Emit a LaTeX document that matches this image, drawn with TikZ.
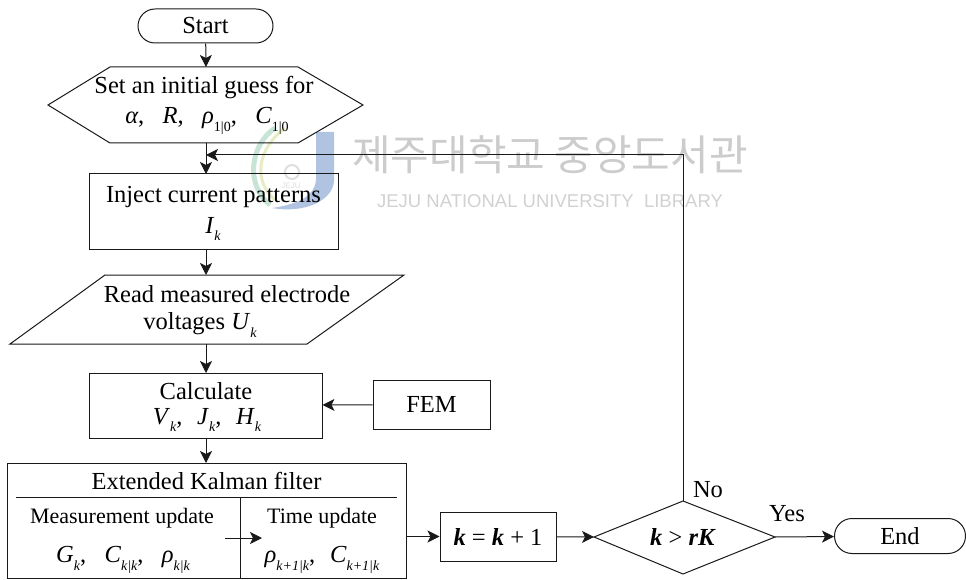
\documentclass[tikz,border=0pt]{standalone}
\usepackage{fontspec}
\setmainfont{Liberation Serif}
\newfontfamily\cjk{Noto Sans CJK KR}
\newfontfamily\wm{Liberation Sans}
\usetikzlibrary{arrows.meta,shapes.misc}
\definecolor{logoblue}{RGB}{176,196,226}
\definecolor{logogreen}{RGB}{200,228,214}
\definecolor{logoyellow}{RGB}{232,236,196}
\definecolor{logogray}{RGB}{222,222,222}
\tikzset{
  x=1pt,y=-1pt,
  every node/.style={font=\fontsize{24.5}{28}\selectfont,align=center,inner sep=0pt},
  ln/.style={draw=black!90,line width=1pt},
  arr/.style={ln,-{Stealth[length=12pt,width=12pt,inset=3pt]}},
  smalltxt/.style={font=\fontsize{22}{26}\selectfont}
}
\newcommand{\ssb}[1]{\raisebox{-0.3em}{\fontsize{14}{15}\selectfont\itshape #1}}
\newcommand{\vv}[1]{\textit{#1}}
\newcommand{\bv}[1]{\textbf{\textit{#1}}}
\newcommand{\gp}{\hspace{0.75em}}
\begin{document}
\begin{tikzpicture}
\useasboundingbox (0,0) rectangle (966,580);
% watermark
\fill[logoblue] (316,132) -- (334,132) -- (334,180) .. controls (334,200) and (305,214) .. (272,208) .. controls (300,204) and (316,195) .. (316,178) -- cycle;
\draw[logogreen,line width=5pt] (275,128) .. controls (250,145) and (245,185) .. (270,205);
\draw[logoyellow,line width=3pt] (285,128) .. controls (258,148) and (252,180) .. (275,200);
\draw[logogray,line width=2pt] (292,172) circle (7pt);
\node[font=\wm\fontsize{8}{9}\selectfont,text=logogray] (wml) at (291,186) {JEJU};
\node[font=\cjk\fontsize{42}{44}\selectfont,text=black!20] (wmk) at (550,155) {제주대학교 중앙도서관};
\node[font=\wm\fontsize{18.5}{20}\selectfont,text=black!18] (wme) at (550,201) {JEJU NATIONAL UNIVERSITY\ \ LIBRARY};
% shapes
\node[ln,rounded rectangle,minimum width=135pt,minimum height=34pt] (start) at (205.5,26) {Start};
\coordinate (hexT) at (206,67);
\coordinate (hexB) at (206,143);
\draw[ln] (48,105) -- (110,67) -- (298,67) -- (363,105) -- (298,143) -- (110,143) -- cycle;
\node (hext) at (204,88) {Set an initial guess for};
\node (hexm) at (207,121) {\vv{α},\gp\vv{R},\gp\vv{ρ}\ssb{\upshape 1|0},\gp\vv{C}\ssb{\upshape 1|0}};
\node[ln,minimum width=249pt,minimum height=75pt] (inject) at (213.5,211.5) {};
\node (injt) at (213.5,197) {Inject current patterns};
\node (injm) at (213,229) {\vv{I}\ssb{k}};
\draw[ln] (105,275) -- (404,275) -- (307,344) -- (10,344) -- cycle;
\coordinate (parT) at (206,275);
\coordinate (parB) at (206,344);
\node (part) at (227,294) {Read measured electrode};
\node (parm) at (200,325) {voltages \vv{U}\ssb{k}};
\node[ln,minimum width=233pt,minimum height=65pt] (calc) at (205.5,405.5) {};
\node (calct) at (206,391) {Calculate};
\node (calcm) at (207,420) {\vv{V}\ssb{k},\hspace{0.6em}\vv{J}\ssb{k},\hspace{0.6em}\vv{H}\ssb{k}};
\node[ln,minimum width=117pt,minimum height=49pt] (fem) at (431.5,404.5) {FEM};
\node[ln,minimum width=399pt,minimum height=115pt] (ekf) at (206.5,520.5) {};
\node (ekft) at (206.5,481) {Extended Kalman filter};
\coordinate (d1) at (16,497); \coordinate (d2) at (397,497);
\draw[ln] (d1) -- (d2);
\coordinate (v1) at (240,497); \coordinate (v2) at (240,578);
\draw[ln] (v1) -- (v2);
\node[smalltxt] (mu) at (122,518) {Measurement update};
\node[smalltxt] (tu) at (322,518) {Time update};
\node (mum) at (123,560) {\vv{G}\ssb{k},\gp\vv{C}\ssb{k|k},\gp\vv{ρ}\ssb{k|k}};
\node (tum) at (322,560) {\vv{ρ}\ssb{k+1|k},\hspace{0.6em}\vv{C}\ssb{k+1|k}};
\coordinate (ia) at (225,538); \coordinate (ib) at (262,538);
\draw[arr] (ia) -- (ib);
\node[ln,minimum width=116pt,minimum height=49pt] (kk) at (498,536.5) {\bv{k} = \bv{k} + 1};
\coordinate (dT) at (683,501); \coordinate (dL) at (594,537); \coordinate (dR) at (775,537);
\draw[ln] (dT) -- (dR) -- (683,574) -- (dL) -- cycle;
\node (dt) at (683,537) {\bv{k} > \bv{rK}};
\node[ln,rounded rectangle,minimum width=131pt,minimum height=35pt] (end) at (900,536) {End};
\node (no) at (708,490) {No};
\node (yes) at (787,514) {Yes};
% connectors
\coordinate (j) at (206,155);
\coordinate (injT) at (206,174); \coordinate (injB) at (206,249);
\coordinate (calT) at (206,373); \coordinate (calB) at (206,438);
\coordinate (ekT) at (206,463);
\draw[arr] (start) -- (hexT);
\draw[ln] (hexB) -- (j);
\draw[arr] (j) -- (injT);
\draw[arr] (dT) |- (j);
\draw[arr] (injB) -- (parT);
\draw[arr] (parB) -- (calT);
\draw[arr] (fem) -- (calc);
\draw[arr] (calB) -- (ekT);
\draw[arr] (ekf.east |- kk) -- (kk);
\draw[arr] (kk) -- (dL);
\draw[arr] (dR) -- (end);
\end{tikzpicture}
\end{document}
